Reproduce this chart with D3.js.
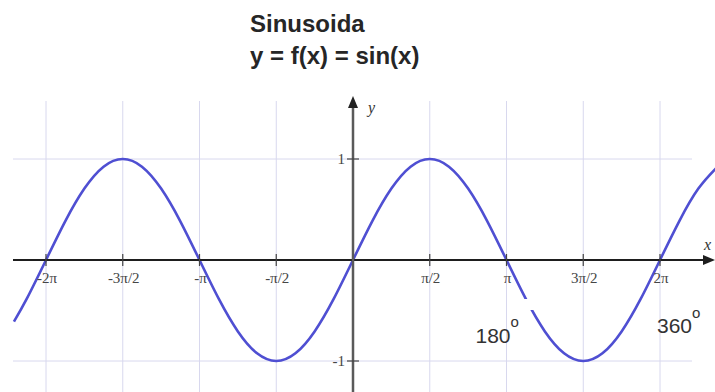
<!DOCTYPE html>
<html>
<head>
<meta charset="utf-8">
<script src="https://cdn.jsdelivr.net/npm/d3@7"></script>
<style>
  html, body { margin: 0; padding: 0; background: #fff; }
  svg { display: block; }
</style>
</head>
<body>
<svg id="chart" width="715" height="392"></svg>
<script>
// Sample points of the sinusoid: x in eighths of pi, y = sin(x)
const curveX = [-17.67, -17, -16, -15, -14, -13, -12, -11, -10, -9, -8, -7, -6, -5, -4, -3, -2, -1,
                0, 1, 2, 3, 4, 5, 6, 7, 8, 9, 10, 11, 12, 13, 14, 15, 16, 17, 18, 19];
const curveY = [-0.61, -0.383, 0, 0.383, 0.707, 0.924, 1, 0.924, 0.707, 0.383, 0, -0.383, -0.707, -0.924, -1, -0.924, -0.707, -0.383,
                0, 0.383, 0.707, 0.924, 1, 0.924, 0.707, 0.383, 0, -0.383, -0.707, -0.924, -1, -0.924, -0.707, -0.383, 0, 0.383, 0.707, 0.924];

// Axis ticks: x in halves of pi, with their labels
const xTickHalves = [-4, -3, -2, -1, 1, 2, 3, 4];
const xTickLabels = ["-2π", "-3π/2", "-π", "-π/2", "π/2", "π", "3π/2", "2π"];
const yTicks = [1, -1];
const yTickLabels = ["1", "-1"];

// Degree annotations (angle in degrees, label)
const degreeNotes = [
  { deg: 180, text: "180" },
  { deg: 360, text: "360" }
];

const titleLines = ["Sinusoida", "y = f(x) = sin(x)"];

const svg = d3.select("#chart");
const W = 715, H = 392;

const x = d3.scaleLinear().domain([-2 * Math.PI, 2 * Math.PI]).range([46, 660]);
const y = d3.scaleLinear().domain([-1, 1]).range([361, 159]);

const gridLeft = 13, gridRight = 692, gridTop = 101;

// grid
const grid = svg.append("g").attr("stroke", "#d8d8ee").attr("stroke-width", 1);
grid.selectAll("line.v").data(xTickHalves).join("line")
  .attr("x1", d => x(d * Math.PI / 2)).attr("x2", d => x(d * Math.PI / 2))
  .attr("y1", gridTop).attr("y2", H);
grid.selectAll("line.h").data(yTicks).join("line")
  .attr("x1", gridLeft).attr("x2", gridRight)
  .attr("y1", d => y(d)).attr("y2", d => y(d));

// curve
const pts = curveX.map((k, i) => [k * Math.PI / 8, curveY[i]]);
const line = d3.line().x(d => x(d[0])).y(d => y(d[1])).curve(d3.curveNatural);
svg.append("path").datum(pts)
  .attr("d", line)
  .attr("fill", "none")
  .attr("stroke", "#4f4fd2")
  .attr("stroke-width", 2.6);

// x axis with arrow
const x0 = x(0), y0 = y(0);
svg.append("line")
  .attr("x1", gridLeft).attr("x2", W - 8)
  .attr("y1", y0).attr("y2", y0)
  .attr("stroke", "#1e1e1e").attr("stroke-width", 2);
svg.append("path")
  .attr("d", `M${W},${y0} L${W - 12},${y0 - 5} L${W - 12},${y0 + 5} Z`)
  .attr("fill", "#1e1e1e");

// y axis with arrow
svg.append("line")
  .attr("x1", x0).attr("x2", x0)
  .attr("y1", 104).attr("y2", H)
  .attr("stroke", "#5a5a5a").attr("stroke-width", 2.5);
svg.append("path")
  .attr("d", `M${x0},96 L${x0 - 5},108 L${x0 + 5},108 Z`)
  .attr("fill", "#222");

// tick marks
svg.append("g").attr("stroke", "#444").attr("stroke-width", 1.2)
  .selectAll("line").data(xTickHalves).join("line")
  .attr("x1", d => x(d * Math.PI / 2)).attr("x2", d => x(d * Math.PI / 2))
  .attr("y1", y0 - 6).attr("y2", y0 + 6);
svg.append("g").attr("stroke", "#444").attr("stroke-width", 1.2)
  .selectAll("line").data(yTicks).join("line")
  .attr("x1", x0 - 6).attr("x2", x0 + 6)
  .attr("y1", d => y(d)).attr("y2", d => y(d));

// tick labels
svg.append("g")
  .attr("font-family", "'Liberation Serif', 'DejaVu Serif', serif")
  .attr("font-size", 15).attr("fill", "#454545").attr("text-anchor", "middle")
  .selectAll("text").data(xTickHalves).join("text")
  .attr("x", d => x(d * Math.PI / 2) + 1)
  .attr("y", y0 + 23)
  .text((d, i) => xTickLabels[i]);
svg.append("g")
  .attr("font-family", "'Liberation Serif', 'DejaVu Serif', serif")
  .attr("font-size", 15).attr("fill", "#454545").attr("text-anchor", "end")
  .selectAll("text").data(yTicks).join("text")
  .attr("x", x0 - 8)
  .attr("y", d => y(d) + 5)
  .text((d, i) => yTickLabels[i]);

// axis names
svg.append("text").attr("x", x0 + 15).attr("y", 113)
  .attr("font-family", "'Liberation Serif', serif").attr("font-style", "italic")
  .attr("font-size", 16).attr("fill", "#333").text("y");
svg.append("text").attr("x", W - 11).attr("y", y0 - 10)
  .attr("font-family", "'Liberation Serif', serif").attr("font-style", "italic")
  .attr("font-size", 16).attr("fill", "#333").text("x");

// degree annotations
const degX = d => x(d * Math.PI / 180);
const note180 = degreeNotes[0], note360 = degreeNotes[1];
// white box behind the 180 label breaks the curve
svg.append("rect")
  .attr("x", degX(note180.deg) + 12).attr("y", y0 + 39)
  .attr("width", 22).attr("height", 11)
  .attr("fill", "#fff");
const degFont = "'Liberation Sans', Arial, sans-serif";
svg.append("text")
  .attr("x", degX(note180.deg) - 31).attr("y", y0 + 83)
  .attr("font-family", degFont).attr("font-size", 21).attr("fill", "#333")
  .text(note180.text)
  .append("tspan").attr("dy", -16).attr("font-size", 15).text("o");
svg.append("text")
  .attr("x", degX(note360.deg) - 3).attr("y", y0 + 73)
  .attr("font-family", degFont).attr("font-size", 21).attr("fill", "#333")
  .text(note360.text)
  .append("tspan").attr("dy", -15).attr("font-size", 15).text("o");

// title
svg.append("g")
  .attr("font-family", "'Liberation Sans', Arial, sans-serif")
  .attr("font-weight", "bold").attr("font-size", 24).attr("fill", "#262626")
  .selectAll("text").data(titleLines).join("text")
  .attr("x", 250)
  .attr("y", (d, i) => 32 + i * 32)
  .text(d => d);
</script>
</body>
</html>
